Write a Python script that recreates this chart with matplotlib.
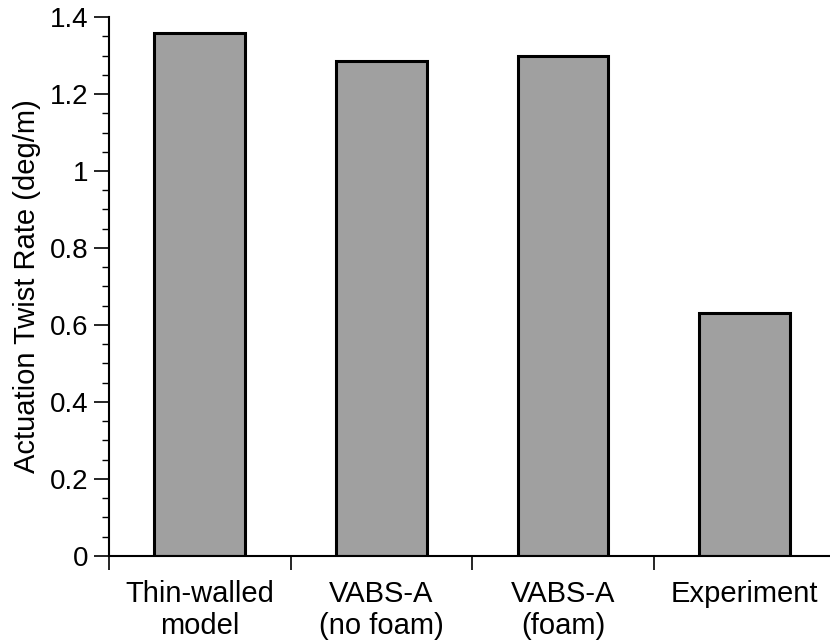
import matplotlib.pyplot as plt
from matplotlib.ticker import MultipleLocator, FuncFormatter

plt.rcParams['font.family'] = ['Liberation Sans', 'DejaVu Sans']

categories = ['Thin-walled\nmodel', 'VABS-A\n(no foam)', 'VABS-A\n(foam)', 'Experiment']
twist_rate = [1.358, 1.286, 1.300, 0.632]

fig = plt.figure(figsize=(8.3, 6.42), dpi=100)
ax = fig.add_axes([0.1313, 0.134, 0.8687, 0.8395])

x = range(len(categories))
ax.bar(x, twist_rate, width=0.5, color='#a0a0a0', edgecolor='black', linewidth=2.2, zorder=2)

ax.set_xlim(-0.5, 3.47)
ax.set_ylim(0, 1.4)

ax.spines['top'].set_visible(False)
ax.spines['right'].set_visible(False)
ax.spines['left'].set_linewidth(1.5)
ax.spines['bottom'].set_linewidth(1.5)

# category labels on invisible major ticks, separators as minor ticks
ax.set_xticks(list(x))
ax.set_xticklabels(categories, fontsize=21, linespacing=1.2)
ax.set_xticks([-0.5, 0.5, 1.5, 2.5], minor=True)
ax.tick_params(axis='x', which='major', length=0, pad=17)
ax.tick_params(axis='x', which='minor', length=10, width=1.2, direction='out')

ax.yaxis.set_major_locator(MultipleLocator(0.2))
ax.yaxis.set_minor_locator(MultipleLocator(0.05))
ax.yaxis.set_major_formatter(FuncFormatter(lambda v, p: f'{v:g}'))
ax.tick_params(axis='y', which='major', length=11, width=1.2, labelsize=20, pad=4)
ax.tick_params(axis='y', which='minor', length=5, width=1.0)

ax.set_ylabel('Actuation Twist Rate (deg/m)', fontsize=21, labelpad=6)

fig.savefig('out.png', dpi=100)
